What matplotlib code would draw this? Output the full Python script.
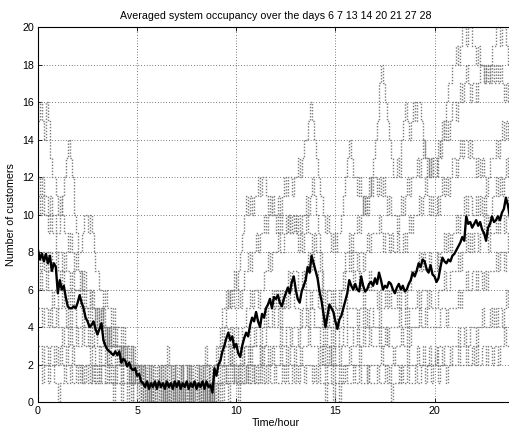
import numpy as np
import matplotlib
matplotlib.use("Agg")
import matplotlib.pyplot as plt

# ----------------------------
# Data: customers in system, sampled every 6 minutes (10 values per hour)
# ----------------------------
days = [6, 7, 13, 14, 20, 21, 27, 28]

day06 = [
    15, 16, 15, 14, 16, 15, 13, 12, 12, 11,
    10, 11, 10, 9, 9, 8, 9, 8, 7, 8,
    7, 7, 6, 7, 6, 6, 5, 6, 5, 5,
    5, 4, 5, 4, 4, 3, 4, 3, 3, 4,
    3, 3, 2, 3, 3, 2, 2, 3, 2, 2,
    2, 1, 2, 2, 1, 2, 1, 1, 2, 1,
    2, 1, 1, 2, 1, 2, 2, 1, 2, 1,
    1, 2, 1, 2, 2, 1, 2, 1, 1, 2,
    2, 1, 2, 1, 2, 2, 1, 2, 1, 2,
    3, 3, 4, 5, 5, 6, 5, 6, 6, 5,
    5, 6, 5, 6, 7, 7, 8, 7, 8, 8,
    9, 8, 9, 9, 10, 9, 10, 10, 11, 10,
    10, 11, 10, 11, 12, 11, 12, 12, 11, 12,
    12, 13, 12, 13, 14, 14, 15, 16, 15, 14,
    13, 12, 11, 11, 10, 9, 10, 9, 8, 9,
    8, 9, 9, 10, 11, 12, 13, 14, 13, 12,
    12, 11, 12, 11, 10, 11, 10, 11, 12, 13,
    14, 15, 17, 18, 17, 16, 15, 14, 13, 12,
    12, 13, 12, 14, 15, 16, 15, 14, 15, 16,
    15, 16, 16, 15, 14, 13, 13, 12, 13, 12,
    12, 13, 14, 13, 14, 15, 16, 17, 17, 18,
    18, 19, 18, 19, 20, 20, 19, 20, 20, 19,
    19, 18, 19, 18, 18, 17, 18, 17, 18, 19,
    19, 20, 20, 19, 20, 20, 19, 18, 17, 16,
]
day07 = [
    12, 11, 12, 11, 11, 10, 11, 10, 10, 9,
    9, 10, 11, 12, 13, 14, 13, 12, 10, 9,
    8, 8, 9, 10, 10, 9, 10, 9, 8, 7,
    7, 6, 6, 5, 6, 5, 5, 4, 5, 4,
    4, 4, 3, 4, 3, 3, 3, 2, 3, 2,
    2, 2, 1, 2, 1, 1, 2, 1, 1, 1,
    1, 1, 2, 1, 1, 2, 1, 1, 2, 1,
    1, 1, 2, 1, 1, 1, 2, 1, 1, 1,
    1, 2, 1, 1, 2, 1, 1, 1, 0, 2,
    2, 3, 3, 4, 4, 5, 6, 5, 6, 7,
    6, 7, 8, 9, 10, 11, 10, 11, 10, 11,
    11, 12, 11, 12, 12, 11, 10, 11, 10, 10,
    9, 10, 9, 10, 10, 9, 10, 9, 9, 10,
    9, 8, 9, 8, 9, 10, 9, 9, 8, 9,
    8, 8, 7, 7, 6, 5, 6, 6, 5, 6,
    5, 5, 6, 6, 7, 8, 8, 9, 8, 9,
    9, 10, 9, 10, 11, 10, 11, 12, 11, 12,
    12, 11, 12, 11, 12, 11, 10, 11, 10, 10,
    10, 9, 10, 11, 10, 11, 12, 11, 12, 12,
    12, 13, 12, 13, 14, 13, 12, 13, 12, 13,
    13, 12, 13, 14, 15, 14, 15, 14, 15, 16,
    16, 15, 16, 17, 16, 17, 18, 17, 16, 17,
    17, 16, 17, 18, 18, 17, 18, 18, 17, 18,
    17, 18, 17, 18, 17, 16, 17, 16, 17, 16,
]
day13 = [
    11, 10, 11, 10, 10, 9, 10, 9, 9, 8,
    8, 8, 7, 8, 7, 7, 6, 7, 6, 6,
    6, 7, 6, 6, 5, 5, 6, 5, 5, 4,
    5, 4, 4, 5, 4, 3, 4, 3, 3, 3,
    3, 2, 3, 2, 2, 3, 2, 2, 1, 2,
    2, 1, 1, 2, 1, 1, 1, 2, 1, 1,
    1, 2, 1, 1, 2, 3, 2, 1, 1, 2,
    1, 1, 2, 1, 1, 2, 1, 2, 1, 1,
    2, 1, 1, 2, 3, 2, 1, 1, 1, 2,
    2, 2, 3, 3, 4, 4, 3, 4, 3, 4,
    4, 3, 3, 4, 4, 5, 5, 6, 5, 6,
    6, 5, 6, 6, 7, 7, 8, 7, 8, 8,
    8, 9, 8, 8, 9, 9, 10, 9, 10, 10,
    9, 10, 9, 10, 10, 11, 10, 11, 12, 11,
    10, 9, 8, 6, 5, 4, 5, 4, 4, 5,
    5, 4, 5, 6, 6, 7, 7, 8, 7, 8,
    8, 7, 8, 8, 7, 8, 9, 8, 9, 9,
    9, 9, 10, 9, 8, 9, 9, 8, 9, 8,
    8, 9, 8, 8, 9, 8, 9, 10, 9, 10,
    10, 10, 11, 10, 11, 12, 11, 10, 11, 10,
    10, 11, 10, 11, 12, 11, 12, 11, 12, 13,
    13, 12, 13, 14, 13, 14, 14, 13, 14, 13,
    13, 12, 13, 12, 13, 12, 11, 12, 13, 13,
    13, 14, 13, 14, 15, 14, 15, 14, 13, 12,
]
day14 = [
    8, 7, 8, 7, 8, 7, 8, 7, 7, 8,
    7, 6, 7, 6, 6, 5, 6, 5, 6, 6,
    6, 5, 6, 5, 5, 4, 5, 4, 4, 5,
    4, 4, 5, 4, 3, 4, 3, 3, 4, 3,
    3, 3, 2, 3, 2, 2, 2, 1, 2, 2,
    1, 2, 1, 1, 0, 1, 1, 0, 1, 1,
    0, 1, 1, 0, 1, 0, 1, 1, 0, 1,
    1, 0, 1, 0, 1, 1, 0, 1, 0, 1,
    0, 1, 1, 0, 1, 1, 0, 1, 0, 1,
    1, 1, 2, 2, 3, 3, 2, 3, 2, 2,
    2, 2, 3, 2, 3, 3, 3, 4, 4, 3,
    4, 4, 3, 4, 5, 4, 5, 5, 6, 5,
    6, 5, 6, 5, 6, 6, 7, 6, 7, 7,
    7, 6, 6, 7, 6, 7, 8, 7, 8, 7,
    7, 6, 6, 5, 4, 3, 4, 4, 3, 4,
    3, 3, 4, 4, 5, 5, 6, 6, 6, 7,
    6, 6, 7, 6, 5, 6, 6, 7, 6, 6,
    6, 5, 6, 5, 5, 6, 5, 6, 5, 5,
    5, 6, 5, 6, 6, 5, 6, 6, 7, 7,
    7, 7, 8, 7, 8, 7, 7, 8, 7, 7,
    7, 8, 7, 8, 8, 9, 8, 9, 8, 9,
    9, 10, 9, 10, 10, 11, 10, 11, 11, 10,
    10, 11, 10, 11, 10, 11, 10, 9, 10, 11,
    11, 12, 11, 12, 11, 12, 13, 12, 11, 10,
]
day20 = [
    6, 7, 6, 6, 7, 6, 6, 5, 6, 6,
    5, 5, 6, 5, 4, 5, 4, 5, 5, 4,
    4, 4, 5, 4, 4, 3, 4, 3, 4, 4,
    3, 3, 3, 4, 3, 2, 3, 2, 2, 3,
    2, 2, 2, 3, 2, 2, 1, 2, 2, 1,
    1, 1, 2, 1, 1, 0, 1, 1, 0, 1,
    1, 0, 1, 1, 0, 1, 0, 1, 1, 0,
    0, 1, 1, 0, 1, 0, 1, 1, 0, 1,
    1, 0, 1, 1, 0, 1, 1, 0, 0, 1,
    1, 2, 2, 2, 3, 3, 3, 2, 3, 2,
    2, 1, 2, 2, 3, 3, 2, 3, 3, 3,
    3, 3, 2, 3, 3, 4, 4, 4, 5, 4,
    4, 5, 4, 5, 5, 6, 5, 6, 6, 5,
    5, 5, 4, 5, 5, 6, 6, 5, 6, 6,
    6, 5, 5, 4, 3, 2, 3, 3, 2, 3,
    2, 2, 3, 3, 4, 4, 5, 5, 5, 5,
    5, 4, 5, 5, 4, 5, 4, 5, 5, 4,
    4, 4, 5, 4, 4, 4, 3, 4, 4, 4,
    4, 4, 5, 4, 4, 5, 4, 5, 5, 5,
    5, 6, 5, 6, 6, 6, 5, 6, 5, 5,
    5, 5, 6, 6, 6, 7, 6, 6, 7, 7,
    7, 7, 8, 7, 8, 8, 9, 8, 9, 8,
    9, 9, 8, 9, 9, 10, 9, 8, 9, 9,
    9, 10, 9, 10, 10, 9, 10, 11, 10, 9,
]
day21 = [
    5, 5, 4, 5, 5, 4, 5, 4, 4, 5,
    4, 4, 3, 4, 4, 3, 4, 3, 3, 4,
    3, 3, 4, 3, 3, 3, 2, 3, 3, 2,
    2, 3, 2, 2, 3, 2, 2, 2, 1, 2,
    2, 2, 1, 2, 2, 1, 2, 1, 1, 2,
    1, 1, 0, 1, 1, 1, 0, 1, 1, 0,
    1, 1, 0, 0, 1, 1, 0, 1, 0, 1,
    0, 1, 0, 1, 1, 0, 1, 0, 1, 1,
    1, 0, 1, 0, 1, 0, 1, 1, 0, 1,
    0, 1, 1, 2, 2, 1, 2, 2, 2, 1,
    1, 2, 1, 1, 2, 2, 2, 3, 2, 2,
    2, 2, 3, 2, 3, 3, 2, 3, 3, 3,
    3, 3, 4, 3, 3, 4, 4, 3, 4, 4,
    4, 3, 4, 4, 4, 5, 4, 5, 5, 4,
    4, 4, 3, 3, 2, 2, 2, 3, 2, 2,
    2, 2, 2, 3, 3, 3, 4, 4, 4, 3,
    3, 4, 3, 3, 4, 3, 3, 4, 3, 3,
    3, 3, 4, 3, 3, 4, 3, 3, 3, 2,
    3, 3, 3, 4, 3, 3, 4, 3, 4, 4,
    4, 4, 5, 4, 4, 5, 4, 4, 4, 4,
    4, 4, 4, 5, 5, 5, 4, 5, 5, 5,
    5, 5, 6, 5, 6, 6, 7, 6, 6, 7,
    7, 6, 7, 7, 6, 7, 6, 7, 7, 7,
    7, 8, 7, 8, 8, 7, 8, 9, 8, 7,
]
day27 = [
    3, 3, 2, 3, 3, 2, 3, 3, 2, 3,
    2, 3, 2, 2, 3, 2, 2, 3, 2, 2,
    2, 2, 1, 2, 2, 2, 1, 2, 2, 1,
    2, 1, 2, 2, 1, 1, 2, 1, 1, 2,
    1, 1, 2, 1, 1, 1, 1, 0, 1, 1,
    0, 1, 0, 0, 1, 0, 0, 1, 0, 0,
    0, 0, 1, 0, 0, 1, 0, 0, 0, 1,
    0, 0, 0, 1, 0, 0, 1, 0, 0, 0,
    1, 0, 0, 0, 1, 0, 0, 1, 0, 0,
    0, 1, 1, 1, 2, 1, 1, 2, 1, 2,
    1, 1, 2, 1, 1, 2, 1, 2, 2, 1,
    2, 1, 2, 2, 1, 2, 2, 2, 3, 2,
    2, 2, 3, 2, 2, 3, 2, 3, 3, 2,
    3, 3, 2, 3, 3, 3, 4, 3, 3, 3,
    3, 2, 3, 2, 2, 1, 2, 2, 1, 2,
    1, 1, 2, 1, 2, 2, 2, 3, 2, 2,
    2, 2, 3, 2, 2, 2, 1, 2, 2, 2,
    2, 2, 2, 3, 2, 2, 2, 1, 2, 2,
    2, 2, 1, 2, 2, 2, 3, 2, 2, 2,
    2, 3, 2, 2, 3, 2, 2, 3, 2, 2,
    3, 2, 3, 3, 2, 3, 3, 3, 2, 3,
    3, 3, 4, 3, 3, 4, 3, 3, 4, 4,
    4, 3, 4, 4, 5, 4, 4, 4, 5, 4,
    5, 4, 5, 5, 4, 5, 6, 5, 5, 5,
]
day28 = [
    2, 2, 1, 2, 2, 1, 2, 2, 1, 1,
    0, 1, 1, 2, 1, 1, 2, 1, 1, 2,
    1, 2, 1, 1, 2, 1, 1, 2, 1, 1,
    1, 2, 1, 1, 1, 2, 1, 1, 0, 1,
    1, 1, 0, 1, 1, 0, 1, 1, 0, 0,
    0, 0, 1, 0, 0, 0, 1, 0, 0, 0,
    0, 0, 0, 1, 0, 0, 0, 0, 1, 0,
    0, 1, 0, 0, 0, 0, 0, 1, 0, 0,
    0, 0, 1, 0, 0, 0, 1, 0, 0, 0,
    0, 0, 1, 0, 1, 1, 0, 1, 1, 1,
    1, 0, 1, 1, 1, 2, 1, 1, 2, 1,
    1, 1, 2, 1, 1, 1, 2, 1, 1, 2,
    1, 1, 1, 2, 1, 2, 1, 1, 2, 1,
    2, 1, 2, 2, 1, 2, 2, 2, 1, 2,
    1, 2, 1, 1, 1, 0, 1, 1, 1, 0,
    1, 1, 0, 1, 1, 2, 1, 1, 1, 2,
    1, 1, 2, 1, 1, 1, 2, 1, 1, 1,
    1, 2, 1, 1, 1, 2, 1, 1, 0, 1,
    1, 1, 1, 2, 1, 1, 2, 1, 1, 1,
    2, 1, 1, 2, 2, 1, 2, 2, 1, 2,
    2, 2, 1, 2, 2, 2, 1, 2, 2, 2,
    2, 2, 3, 2, 2, 2, 3, 2, 2, 3,
    2, 3, 2, 2, 3, 3, 2, 3, 3, 2,
    3, 3, 2, 3, 3, 4, 3, 3, 3, 3,
]

# averaged occupancy over the eight days (same 6-minute grid)
avg_occupancy = [
    8.1, 7.6, 7.9, 7.5, 7.9, 7.4, 7.8, 7.0, 7.4, 7.2,
    5.8, 6.5, 6.0, 6.2, 5.6, 5.1, 5.0, 5.0, 5.1, 5.0,
    5.3, 5.7, 5.3, 5.0, 4.5, 4.3, 4.0, 4.1, 4.3, 3.9,
    3.6, 3.9, 4.2, 3.3, 3.0, 2.8, 2.7, 2.6, 2.5, 2.7,
    2.5, 2.7, 2.1, 2.3, 2.2, 1.9, 2.1, 1.8, 1.7, 1.8,
    1.4, 1.5, 1.1, 1.0, 0.8, 1.1, 0.7, 1.0, 0.8, 1.1,
    0.7, 1.1, 0.8, 1.0, 0.7, 1.1, 0.8, 1.0, 0.7, 1.1,
    0.8, 1.1, 0.7, 1.0, 0.8, 1.1, 0.7, 1.0, 0.8, 1.1,
    0.7, 1.0, 0.8, 1.1, 0.7, 1.1, 0.8, 0.9, 0.5, 1.8,
    1.4, 2.0, 2.2, 2.7, 3.0, 3.4, 3.7, 3.3, 3.5, 2.9,
    3.1, 2.6, 2.4, 3.0, 3.4, 3.7, 3.5, 4.1, 4.5, 4.3,
    4.8, 4.3, 4.0, 4.7, 4.5, 5.0, 5.2, 5.5, 5.0, 5.6,
    5.5, 5.7, 5.3, 5.1, 5.5, 5.8, 6.1, 5.8, 6.4, 6.7,
    6.0, 5.5, 5.3, 5.9, 6.2, 6.5, 7.2, 6.9, 7.8, 7.4,
    7.0, 6.6, 5.9, 5.4, 4.7, 4.0, 4.6, 5.2, 5.0, 4.8,
    4.3, 3.9, 4.4, 4.6, 5.0, 5.4, 5.8, 6.5, 6.2, 6.0,
    6.3, 6.0, 5.9, 6.7, 6.2, 5.9, 6.0, 6.3, 6.4, 6.2,
    6.6, 6.3, 6.9, 6.5, 6.0, 6.2, 6.1, 6.4, 6.3, 6.0,
    5.8, 6.1, 6.3, 6.0, 6.2, 5.9, 6.0, 6.3, 6.5, 6.9,
    6.7, 7.0, 7.4, 7.2, 7.6, 7.5, 7.1, 6.9, 7.3, 6.8,
    6.7, 6.4, 6.6, 7.2, 7.7, 7.5, 7.4, 7.6, 7.5, 7.8,
    7.9, 8.1, 8.3, 8.5, 8.8, 8.6, 9.9, 9.5, 9.6, 9.3,
    9.5, 9.7, 9.4, 9.6, 9.2, 9.0, 8.6, 9.3, 9.5, 9.9,
    9.6, 9.7, 9.9, 9.7, 10.1, 10.3, 10.9, 10.5, 9.9, 8.8,
]

day_series = [day06, day07, day13, day14, day20, day21, day27, day28]
hours = np.arange(len(avg_occupancy)) / 10.0

# ----------------------------
# Plot
# ----------------------------
plt.rcParams["font.family"] = ["Liberation Sans", "DejaVu Sans"]
plt.rcParams["font.size"] = 7.7

fig = plt.figure(figsize=(5.1, 4.3), dpi=100)
ax = fig.add_axes([0.0745, 0.0651, 0.933, 0.872])

# individual days: dotted gray staircases
for values in day_series:
    ax.plot(hours, values, drawstyle="steps-post", linestyle=(0, (1, 1.2)),
            color="#7a7a7a", linewidth=1.0)

# daily average on top
ax.plot(hours, avg_occupancy, color="black", linewidth=1.7)

ax.set_xlim(0, 24)
ax.set_ylim(0, 20)
ax.set_xticks([0, 5, 10, 15, 20])
ax.set_yticks(np.arange(0, 21, 2))
ax.tick_params(direction="in", length=3, width=0.6, top=True, right=True,
               labelsize=7.7, pad=3)
ax.grid(True, linestyle=(0, (1, 3)), color="black", linewidth=0.5)
for spine in ax.spines.values():
    spine.set_linewidth(0.8)

days_text = " ".join(str(d) for d in days)
ax.set_title(f"Averaged system occupancy over the days {days_text}",
             fontsize=7.7, pad=6)
ax.set_xlabel("Time/hour", fontsize=7.7, labelpad=1)
ax.set_ylabel("Number of customers", fontsize=7.7, labelpad=4)

fig.savefig("out.png", dpi=100)
